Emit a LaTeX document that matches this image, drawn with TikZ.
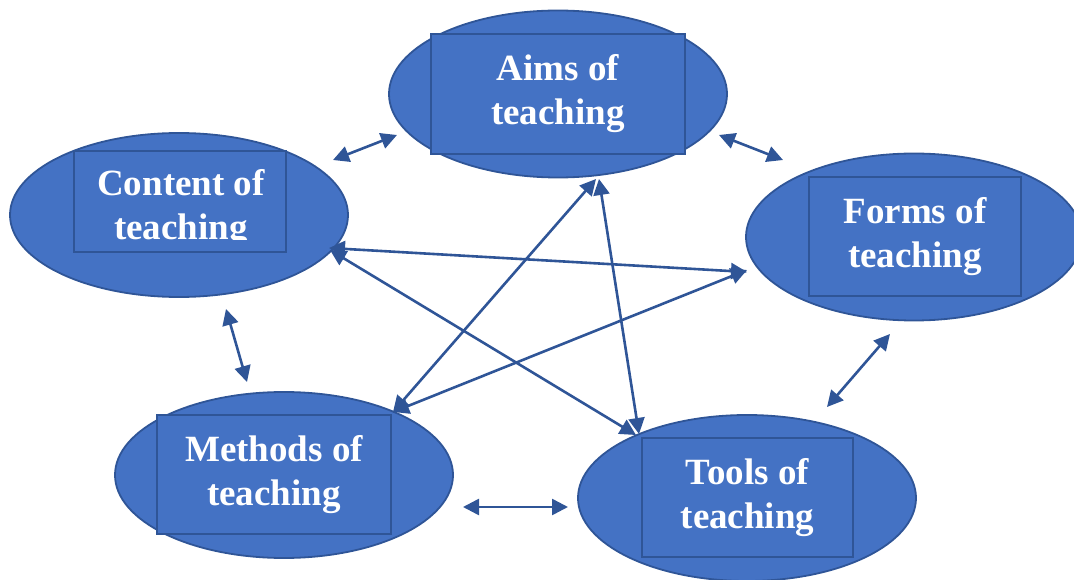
\documentclass[tikz,border=0pt]{standalone}
\usepackage{fontspec}
\setmainfont{Liberation Serif}
\usetikzlibrary{shapes.geometric,arrows.meta}
\definecolor{fillblue}{HTML}{4472C4}
\definecolor{edgeblue}{HTML}{2F5597}
\tikzset{
  blob/.style={ellipse, draw=edgeblue, line width=1.8pt, fill=fillblue, inner sep=0pt},
  framebox/.style={rectangle, draw=edgeblue, line width=2.2pt, fill=fillblue, inner sep=0pt,
    text=white, font=\fontsize{37}{44}\selectfont\bfseries, align=center},
  label/.style={text=white, font=\fontsize{37}{44}\selectfont\bfseries, align=center, inner sep=0pt},
  link/.style={draw=edgeblue, line width=2.6pt,
    {Triangle[length=16pt,width=16pt]}-{Triangle[length=16pt,width=16pt]}}
}
\begin{document}
\begin{tikzpicture}[x=1pt,y=-1pt]
\useasboundingbox (0,0) rectangle (1074,580);

% outer ellipses
\node[blob, minimum width=338pt, minimum height=167pt] (aims)    at (558,94)  {};
\node[blob, minimum width=338pt, minimum height=164pt] (content) at (179,215) {};
\node[blob, minimum width=336pt, minimum height=167pt] (forms)   at (914,237) {};
\node[blob, minimum width=338pt, minimum height=166pt] (methods) at (284,475) {};
\node[blob, minimum width=338pt, minimum height=166pt] (tools)   at (747,498) {};

% inner frames with their titles
\node[framebox, minimum width=254pt, minimum height=120pt] (aimsbox)    at (558,94)    {Aims of\\teaching};
\node[framebox, minimum width=212pt, minimum height=101pt] (contentbox) at (180,201.5) {};
\node[framebox, minimum width=212pt, minimum height=119pt] (formsbox)   at (915,236.5) {Forms of\\teaching};
\node[framebox, minimum width=234pt, minimum height=119pt] (methodsbox) at (274,474.5) {Methods of\\teaching};
\node[framebox, minimum width=211pt, minimum height=119pt] (toolsbox)   at (747.5,497.5) {Tools of\\teaching};
\begin{scope}
  \clip (74,151) rectangle (286,240);
  \node[label] (contenttext) at (181,209) {Content of\\teaching};
\end{scope}

% connector end points
\coordinate (ca1) at (333,160);  \coordinate (ca2) at (397,135);
\coordinate (af1) at (719,135);  \coordinate (af2) at (783,160);
\coordinate (cf1) at (329,248);  \coordinate (cf2) at (747,272);
\coordinate (ct1) at (330,250);  \coordinate (ct2) at (636,435);
\coordinate (am1) at (596,179);  \coordinate (am2) at (393,412);
\coordinate (at1) at (599,179);  \coordinate (at2) at (639,434);
\coordinate (mf1) at (393,412);  \coordinate (mf2) at (747,270);
\coordinate (cm1) at (226,309);  \coordinate (cm2) at (247,382);
\coordinate (mt1) at (463,507);  \coordinate (mt2) at (568,507);
\coordinate (ft1) at (890,334);  \coordinate (ft2) at (827,407);

% connectors
\draw[link] (ca1) -- (ca2);
\draw[link] (af1) -- (af2);
\draw[link] (cf1) -- (cf2);
\draw[link] (ct1) -- (ct2);
\draw[link] (am1) -- (am2);
\draw[link] (at1) -- (at2);
\draw[link] (mf1) -- (mf2);
\draw[link] (cm1) -- (cm2);
\draw[link] (mt1) -- (mt2);
\draw[link] (ft1) -- (ft2);
\end{tikzpicture}
\end{document}
